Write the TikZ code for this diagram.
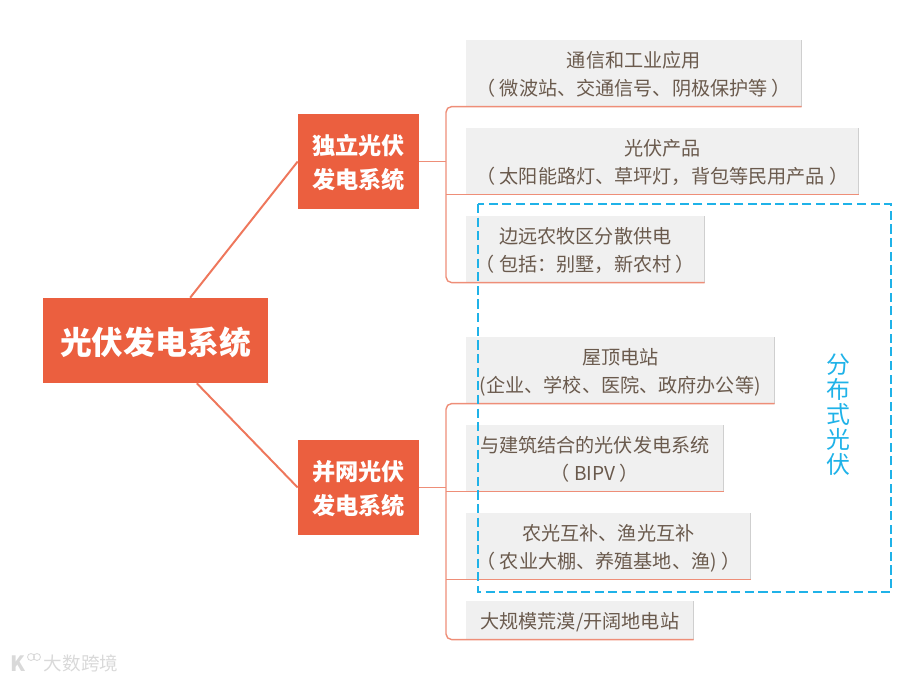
\documentclass[tikz,border=0pt]{standalone}
\usepackage{fontspec}
\setmainfont{Noto Sans CJK SC}
\usetikzlibrary{positioning,arrows.meta}

\definecolor{pvorange}{HTML}{EB5F3F}
\definecolor{pvline}{HTML}{EE8E78}
\definecolor{pvgray}{HTML}{F0F0F0}
\definecolor{pvedge}{HTML}{CFCFCF}
\definecolor{pvtext}{HTML}{6A5A4D}
\definecolor{pvblue}{HTML}{1FB2E8}

\tikzset{
    rootbox/.style={fill=pvorange, text=white, inner sep=0pt, minimum width=5.625cm, minimum height=2.125cm,
        text depth=0pt, font=\fontsize{22.6pt}{26pt}\selectfont\bfseries},
    midbox/.style={fill=pvorange, text=white, inner sep=0pt, minimum width=3.025cm, minimum height=2.375cm,
        align=center, text depth=-2.5pt, font=\fontsize{16.5pt}{24pt}\selectfont\bfseries},
    leafbox/.style={fill=pvgray, text=pvtext, anchor=north west, inner sep=0pt, minimum height=1.65cm,
        align=center, text depth=0pt, font=\fontsize{13.6pt}{20pt}\selectfont},
    mainlink/.style={pvorange!85!white, line width=1.4pt},
    leaflink/.style={pvline, line width=1pt, rounded corners=4pt},
    zonebox/.style={pvblue, line width=2pt, dash pattern=on 6.5pt off 3.2pt}
}

\begin{document}
\begin{tikzpicture}[x=0.025cm, y=-0.025cm]

\useasboundingbox (0,0) rectangle (900,680);

% Root and the two systems
\node[rootbox] (root) at (155.5,340.5) {光伏发电系统};
\node[midbox] (indep) at (358.5,161.5) {独立光伏\\发电系统};
\node[midbox] (grid) at (358.5,487.5) {并网光伏\\发电系统};

\draw[mainlink] (root.51) -- (indep.west);
\draw[mainlink] (root.-46) -- (grid.west);

% Leaves of the stand-alone system
\node[leafbox, minimum width=8.375cm] (comm) at (466,40) {通信和工业应用\\（ 微波站、交通信号、阴极保护等 ）};
\node[leafbox, minimum width=9.8cm] (prod) at (466,128) {光伏产品\\（ 太阳能路灯、草坪灯，背包等民用产品 ）};
\node[leafbox, minimum width=5.95cm] (rural) at (466,216) {边远农牧区分散供电\\（ 包括：别墅，新农村 ）};

% Leaves of the grid-tied system
\node[leafbox, minimum width=7.7cm] (roof) at (466,337) {屋顶电站\\(企业、学校、医院、政府办公等)};
\node[leafbox, minimum width=6.425cm] (bipv) at (466,425) {与建筑结合的光伏发电系统\\（ BIPV ）};
\node[leafbox, minimum width=7.1cm] (agri) at (466,513) {农光互补、渔光互补\\（ 农业大棚、养殖基地、渔) ）};
\node[leafbox, minimum width=5.675cm, minimum height=0.95cm] (desert) at (466,601) {大规模荒漠/开阔地电站};

% Grey right edge of each leaf
\foreach \leaf in {comm,prod,rural,roof,bipv,agri,desert}
    \draw[pvedge, line width=0.6pt] (\leaf.north east) -- (\leaf.south east);

% Brackets
\draw[leaflink] (comm.south east) -- (comm.south west) -- ++(-20,0) |- (rural.south west) -- (rural.south east);
\draw[leaflink] (prod.south east) -- (prod.south west) -- ++(-20,0);
\draw[leaflink] (indep.east) -- ++(27,0);

\draw[leaflink] (roof.south east) -- (roof.south west) -- ++(-20,0) |- (desert.south west) -- (desert.south east);
\draw[leaflink] (bipv.south east) -- (bipv.south west) -- ++(-20,0);
\draw[leaflink] (agri.south east) -- (agri.south west) -- ++(-20,0);
\draw[leaflink] (grid.east) -- ++(27,0);

% Distributed PV zone
\draw[zonebox] (478,204) rectangle (891,592);
\node[text=pvblue, align=center, inner sep=0pt, font=\fontsize{17pt}{17.8pt}\selectfont,
    execute at begin node={\lineskiplimit=-8pt\relax}] (zone) at (838,415) {分\\布\\式\\光\\伏};

% Watermark
\node[text=gray!30, inner sep=0pt, font=\fontsize{13.2pt}{14pt}\selectfont] (mark) at (81,663) {大数跨境};
\node[text=gray!30, inner sep=0pt, font=\fontsize{15pt}{15pt}\selectfont\bfseries] (logo) at (18,664) {K};
\draw[gray!30, line width=0.6pt] (31,657) circle (3.5);
\draw[gray!30, line width=0.6pt] (37,657) circle (3.5);

\end{tikzpicture}
\end{document}
